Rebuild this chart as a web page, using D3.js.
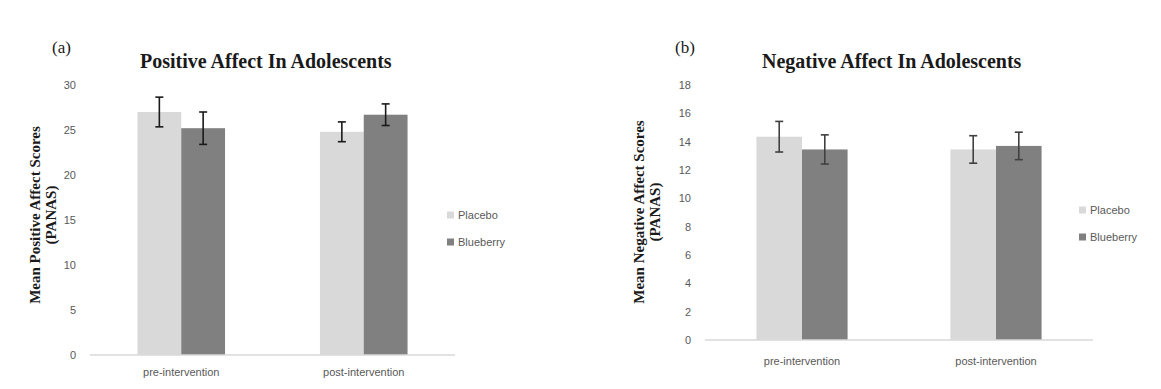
<!DOCTYPE html>
<html lang="en">
<head>
<meta charset="UTF-8">
<title>Positive and Negative Affect In Adolescents</title>
<script src="https://d3js.org/d3.v7.min.js"></script>
<style>
    body { margin: 0; background: #fff; }
    .tick-label, .legend-label, .cat-label {
        font-family: "Liberation Sans", Arial, sans-serif;
        font-size: 11px;
        fill: #595959;
    }
    .chart-title {
        font-family: "Liberation Serif", "Times New Roman", serif;
        font-weight: bold;
        font-size: 20px;
        fill: #1a1a1a;
    }
    .panel-tag {
        font-family: "Liberation Serif", "Times New Roman", serif;
        font-size: 17px;
        fill: #1a1a1a;
    }
    .y-title {
        font-family: "Liberation Serif", "Times New Roman", serif;
        font-weight: bold;
        font-size: 15px;
        fill: #1a1a1a;
    }
</style>
</head>
<body>
<div id="chart"></div>
<script>
// data
const categories = ["pre-intervention", "post-intervention"];
const groups = ["Placebo", "Blueberry"];
const colors = ["#d9d9d9", "#808080"];

const positiveMeans = [[27.0, 25.2], [24.8, 26.7]];   // [category][group]
const positiveErr = [[1.65, 1.8], [1.1, 1.2]];
const positiveTicks = [0, 5, 10, 15, 20, 25, 30];

const negativeMeans = [[14.35, 13.45], [13.45, 13.7]];
const negativeErr = [[1.08, 1.03], [0.97, 0.97]];
const negativeTicks = [0, 2, 4, 6, 8, 10, 12, 14, 16, 18];

const svg = d3.select("#chart").append("svg")
    .attr("width", 1161)
    .attr("height", 389);

function drawPanel(opt) {
    const g = svg.append("g");

    const y = d3.scaleLinear()
        .domain([0, d3.max(opt.ticks)])
        .range([opt.bottom, opt.top]);

    const x0 = d3.scaleBand()
        .domain(categories)
        .range([opt.left, opt.right])
        .paddingInner(opt.pad)
        .paddingOuter(opt.pad / 2);

    const x1 = d3.scaleBand()
        .domain(groups)
        .range([0, x0.bandwidth()]);

    const color = d3.scaleOrdinal().domain(groups).range(colors);

    // tick labels
    g.selectAll(".tick-label")
        .data(opt.ticks)
        .enter().append("text")
        .attr("class", "tick-label")
        .attr("x", opt.left - 14)
        .attr("y", d => y(d))
        .attr("dy", "0.35em")
        .attr("text-anchor", "end")
        .text(d => d);

    const rows = [];
    categories.forEach((c, i) => {
        groups.forEach((s, j) => {
            rows.push({ cat: c, group: s, value: opt.means[i][j], err: opt.err[i][j] });
        });
    });

    g.selectAll("rect.bar")
        .data(rows)
        .enter().append("rect")
        .attr("class", "bar")
        .attr("x", d => x0(d.cat) + x1(d.group))
        .attr("y", d => y(d.value))
        .attr("width", x1.bandwidth())
        .attr("height", d => y(0) - y(d.value))
        .attr("fill", d => color(d.group));

    // bottom axis line
    g.append("line")
        .attr("x1", opt.left).attr("x2", opt.right)
        .attr("y1", y(0)).attr("y2", y(0))
        .attr("stroke", "#d9d9d9")
        .attr("stroke-width", 1.5);

    // error bars
    const eb = g.selectAll("g.err")
        .data(rows)
        .enter().append("g")
        .attr("class", "err")
        .attr("stroke", opt.errColor)
        .attr("stroke-width", 1.6);
    const cx = d => x0(d.cat) + x1(d.group) + x1.bandwidth() / 2;
    eb.append("line")
        .attr("x1", cx).attr("x2", cx)
        .attr("y1", d => y(d.value + d.err))
        .attr("y2", d => y(d.value - d.err));
    eb.append("line")
        .attr("x1", d => cx(d) - 4).attr("x2", d => cx(d) + 4)
        .attr("y1", d => y(d.value + d.err)).attr("y2", d => y(d.value + d.err));
    eb.append("line")
        .attr("x1", d => cx(d) - 4).attr("x2", d => cx(d) + 4)
        .attr("y1", d => y(d.value - d.err)).attr("y2", d => y(d.value - d.err));

    // category labels
    g.selectAll(".cat-label")
        .data(categories)
        .enter().append("text")
        .attr("class", "cat-label")
        .attr("x", d => x0(d) + x0.bandwidth() / 2)
        .attr("y", opt.catY)
        .attr("text-anchor", "middle")
        .text(d => d);

    // titles
    g.append("text")
        .attr("class", "chart-title")
        .attr("x", opt.titleX)
        .attr("y", 68)
        .text(opt.title);

    g.append("text")
        .attr("class", "panel-tag")
        .attr("x", opt.tagX)
        .attr("y", 53)
        .text(opt.tag);

    const yt = g.append("text")
        .attr("class", "y-title")
        .attr("transform", `translate(${opt.yTitleX},${opt.yTitleY}) rotate(-90)`)
        .attr("text-anchor", "middle");
    yt.append("tspan").attr("x", 0).attr("y", 0).text(opt.yTitle);
    yt.append("tspan").attr("x", 0).attr("y", 16).text("(PANAS)");

    // legend
    const lg = g.selectAll("g.legend")
        .data(groups)
        .enter().append("g")
        .attr("class", "legend")
        .attr("transform", (d, i) => `translate(${opt.legendX},${opt.legendY + i * 27})`);
    lg.append("rect")
        .attr("x", 0).attr("y", -3.5)
        .attr("width", 7).attr("height", 7)
        .attr("fill", d => color(d));
    lg.append("text")
        .attr("class", "legend-label")
        .attr("x", 11)
        .attr("dy", "0.35em")
        .text(d => d);
}

drawPanel({
    means: positiveMeans, err: positiveErr, ticks: positiveTicks,
    top: 85, bottom: 355, left: 90, right: 455, pad: 0.52,
    errColor: "#1a1a1a",
    title: "Positive Affect In Adolescents", titleX: 140, tag: "(a)", tagX: 52,
    yTitle: "Mean Positive Affect Scores", yTitleX: 40, yTitleY: 215,
    catY: 376, legendX: 447, legendY: 215
});

drawPanel({
    means: negativeMeans, err: negativeErr, ticks: negativeTicks,
    top: 85, bottom: 340, left: 705, right: 1093, pad: 0.53,
    errColor: "#404040",
    title: "Negative Affect In Adolescents", titleX: 762, tag: "(b)", tagX: 675,
    yTitle: "Mean Negative Affect Scores", yTitleX: 644, yTitleY: 212,
    catY: 365, legendX: 1079, legendY: 210
});
</script>
</body>
</html>
